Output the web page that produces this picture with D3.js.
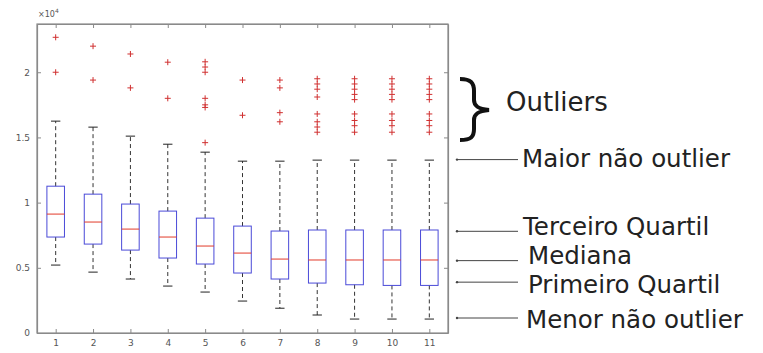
<!DOCTYPE html>
<html><head><meta charset="utf-8">
<script src="https://cdn.jsdelivr.net/npm/d3@7"></script>
<style>html,body{margin:0;padding:0;background:#fff;}</style>
</head><body>
<svg id="chart" width="763" height="353"></svg>
<script>
const categories = ["1","2","3","4","5","6","7","8","9","10","11"];
const q1 =     [0.736,0.682,0.636,0.575,0.529,0.460,0.414,0.383,0.370,0.365,0.365];
const median = [0.912,0.851,0.797,0.736,0.667,0.613,0.567,0.560,0.560,0.560,0.560];
const q3 =     [1.126,1.065,0.989,0.935,0.881,0.820,0.782,0.790,0.790,0.790,0.790];
const lowerWhisker = [0.521,0.467,0.414,0.360,0.314,0.245,0.190,0.138,0.107,0.107,0.107];
const upperWhisker = [1.625,1.579,1.510,1.448,1.387,1.318,1.318,1.326,1.326,1.326,1.326];
const outliers = [
  [2.268,2.00],
  [2.20,1.94],
  [2.14,1.88],
  [2.077,1.80],
  [2.08,2.04,2.00,1.80,1.75,1.73,1.46],
  [1.94,1.67],
  [1.94,1.88,1.69,1.62],
  [1.95,1.91,1.87,1.81,1.68,1.62,1.58,1.54],
  [1.95,1.91,1.87,1.83,1.79,1.68,1.63,1.59,1.54],
  [1.95,1.91,1.87,1.83,1.79,1.68,1.63,1.59,1.54],
  [1.95,1.91,1.87,1.83,1.79,1.68,1.63,1.59,1.54]
];
const yTicks = [0,0.5,1,1.5,2];
const yTickLabels = ["0","0.5","1","1.5","2"];
const annotations = [
  {label:"Maior não outlier", y:1.33},
  {label:"Terceiro Quartil", y:0.78},
  {label:"Mediana", y:0.555},
  {label:"Primeiro Quartil", y:0.39},
  {label:"Menor não outlier", y:0.115}
];

const svg = d3.select("#chart");
const L = 37, R = 448, T = 24, B = 333;
const x = d3.scaleLinear().domain([0.5, 11.5]).range([L, R]);
const y = d3.scaleLinear().domain([0, 2.37]).range([B, T]);

const axisColor = "#8a8a8a", tickText = "#555";

svg.append("rect").attr("x", L).attr("y", T).attr("width", R-L).attr("height", B-T)
  .attr("fill","none").attr("stroke", axisColor).attr("stroke-width", 1.2);

const xs = categories.map((c,i)=>i+1);
const xAxis = d3.axisBottom(x).tickValues(xs).tickFormat((d,i)=>categories[i]).tickSizeInner(-4).tickSizeOuter(0).tickPadding(7);
const gx = svg.append("g").attr("transform",`translate(0,${B})`).call(xAxis);
const xTop = d3.axisTop(x).tickValues(xs).tickFormat("").tickSizeInner(-4).tickSizeOuter(0);
const gxt = svg.append("g").attr("transform",`translate(0,${T})`).call(xTop);
const yAxis = d3.axisLeft(y).tickValues(yTicks).tickFormat((d,i)=>yTickLabels[i]).tickSizeInner(-4).tickSizeOuter(0).tickPadding(7);
const gy = svg.append("g").attr("transform",`translate(${L},0)`).call(yAxis);
const yRight = d3.axisRight(y).tickValues(yTicks).tickFormat("").tickSizeInner(-4).tickSizeOuter(0);
const gyr = svg.append("g").attr("transform",`translate(${R},0)`).call(yRight);
[gx,gxt,gy,gyr].forEach(g=>{
  g.select(".domain").attr("stroke", axisColor).attr("stroke-width",1.2);
  g.selectAll(".tick line").attr("stroke", axisColor);
  g.selectAll(".tick text").attr("fill", tickText).attr("font-family","DejaVu Sans, sans-serif").attr("font-size", 9);
});

const ex = svg.append("text").attr("x", L+1).attr("y", T-7).attr("fill", tickText)
  .attr("font-family","DejaVu Sans, sans-serif").attr("font-size", 8);
ex.append("tspan").text("×10");
ex.append("tspan").attr("dy",-4).attr("font-size",6).text("4");

const bw = 0.47, cw = 0.25;
const g = svg.append("g");
xs.forEach((xv,i)=>{
  const dash = "4,3";
  g.append("line").attr("x1",x(xv)).attr("x2",x(xv)).attr("y1",y(q3[i])).attr("y2",y(upperWhisker[i]))
    .attr("stroke","#333").attr("stroke-dasharray",dash).attr("stroke-width",1);
  g.append("line").attr("x1",x(xv)).attr("x2",x(xv)).attr("y1",y(q1[i])).attr("y2",y(lowerWhisker[i]))
    .attr("stroke","#333").attr("stroke-dasharray",dash).attr("stroke-width",1);
  [upperWhisker[i], lowerWhisker[i]].forEach(v=>{
    g.append("line").attr("x1",x(xv-cw/2)).attr("x2",x(xv+cw/2)).attr("y1",y(v)).attr("y2",y(v))
      .attr("stroke","#222").attr("stroke-width",1);
  });
  g.append("rect").attr("x",x(xv-bw/2)).attr("width",x(xv+bw/2)-x(xv-bw/2))
    .attr("y",y(q3[i])).attr("height",y(q1[i])-y(q3[i]))
    .attr("fill","none").attr("stroke","#4a4ad8").attr("stroke-width",1);
  g.append("line").attr("x1",x(xv-bw/2)).attr("x2",x(xv+bw/2)).attr("y1",y(median[i])).attr("y2",y(median[i]))
    .attr("stroke","#e23a2a").attr("stroke-width",1);
  outliers[i].forEach(v=>{
    const cx = x(xv), cy = y(v), s = 3;
    g.append("path").attr("d",`M${cx-s},${cy}H${cx+s}M${cx},${cy-s}V${cy+s}`)
      .attr("stroke","#d03030").attr("stroke-width",1);
  });
});

const font = "DejaVu Sans, Verdana, sans-serif";
svg.append("path")
  .attr("d","M460,79 C471,79 474,83 474,91 L474,100 C474,106 478,109 489,110 C478,111 474,114 474,120 L474,129 C474,137 471,140 460,140")
  .attr("fill","none").attr("stroke","#111").attr("stroke-width",4);
svg.append("text").attr("x",506).attr("y",111).attr("fill","#222").attr("font-family",font).attr("font-size",26).text("Outliers");
const textX = [522,523,528,528,526];
const textDy = [7,4,3.5,11,10];
annotations.forEach((a,i)=>{
  const yy = y(a.y);
  svg.append("line").attr("x1",457).attr("x2",518).attr("y1",yy).attr("y2",yy).attr("stroke","#444").attr("stroke-width",1);
  svg.append("circle").attr("cx",457).attr("cy",yy).attr("r",1.2).attr("fill","#444");
  svg.append("text").attr("x",textX[i]).attr("y",yy+textDy[i]).attr("fill","#222").attr("font-family",font).attr("font-size",24.5).text(a.label);
});
</script>
</body></html>
